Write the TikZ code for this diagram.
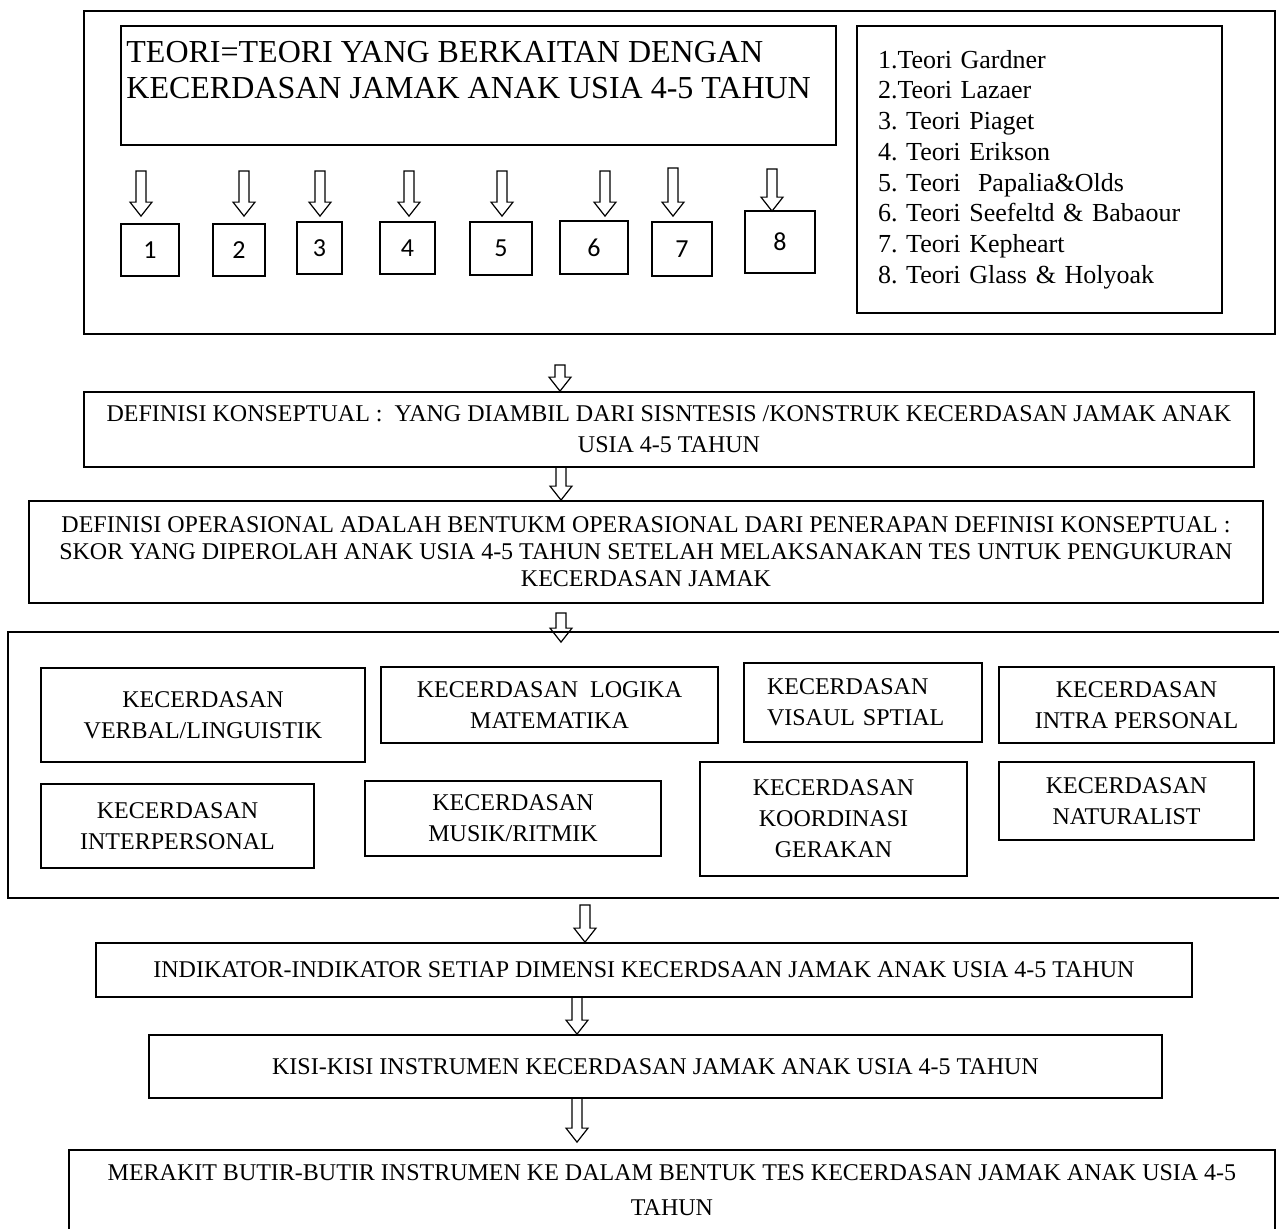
\documentclass[tikz,border=0pt]{standalone}
\usepackage{fontspec}
\setmainfont{Liberation Serif}
\newfontfamily\numfont{Carlito}
\usetikzlibrary{calc}
\frenchspacing

\tikzset{
  frame/.style={draw, line width=0.9pt, inner sep=0pt, align=center,
    font=\fontsize{12}{15.5}\selectfont},
  numbox/.style={draw, line width=0.9pt, inner sep=0pt,
    font=\numfont\fontsize{13}{15}\selectfont},
  hollow/.style={draw, line width=0.6pt, to path={
    let \p1=(\tikztostart), \p2=(\tikztotarget) in
    (\x1-2.5pt,\y1) -- (\x1-2.5pt,\y2+7pt) -- (\x1-5.5pt,\y2+7pt) -- (\x1,\y2)
    -- (\x1+5.5pt,\y2+7pt) -- (\x1+2.5pt,\y2+7pt) -- (\x1+2.5pt,\y1) -- cycle}},
}

\begin{document}
\begin{tikzpicture}[x=0.5pt, y=-0.5pt]

      \useasboundingbox (0,0) rectangle (1279,1228);
      \clip (0,0) rectangle (1279,1228);

      % top block: theories
      \node[frame, minimum width=595.5pt, minimum height=161.5pt] (top) at (679.5,172.5) {};
      \node[frame, minimum width=357.5pt, minimum height=59.5pt] (titlebox) at (478.5,85.5) {};
      \node[anchor=north west, inner sep=0pt, align=left,
        font=\fontsize{16}{18}\selectfont] (title) at (126,41)
        {TEORI=TEORI YANG BERKAITAN DENGAN\\KECERDASAN JAMAK ANAK USIA 4-5 TAHUN};
      \node[frame, minimum width=182.5pt, minimum height=143.5pt, text width=161.5pt,
        align=left, font=\fontsize{13}{15.35}\selectfont] (legend) at (1039.5,169.5)
        {1.Teori Gardner\\2.Teori Lazaer\\3. Teori Piaget\\4. Teori Erikson\\
         5. Teori\ \ Papalia\&Olds\\6. Teori Seefeltd \& Babaour\\7. Teori Kepheart\\
         8. Teori Glass \& Holyoak};

      \begin{scope}[every node/.style={numbox}]
        \node[minimum width=29pt, minimum height=26pt] (1) at (150,250) {1};
        \node[minimum width=26pt, minimum height=26pt] (2) at (239,250) {2};
        \node[minimum width=22.5pt, minimum height=26pt] (3) at (319.5,248) {3};
        \node[minimum width=27.5pt, minimum height=26pt] (4) at (407.5,248) {4};
        \node[minimum width=31pt, minimum height=26.5pt] (5) at (501,248.5) {5};
        \node[minimum width=34pt, minimum height=26.5pt] (6) at (594,247.5) {6};
        \node[minimum width=30pt, minimum height=27pt] (7) at (682,249) {7};
        \node[minimum width=35pt, minimum height=31pt] (8) at (780,242) {8};
      \end{scope}

      \coordinate (s1) at (141,171);
      \coordinate (s2) at (244,171);
      \coordinate (s3) at (320,171);
      \coordinate (s4) at (409,171);
      \coordinate (s5) at (502,171);
      \coordinate (s6) at (605,171);
      \coordinate (s7) at (673,168);
      \coordinate (s8) at (772,169);
      \path (s1) edge[hollow] ([yshift=3.5pt]1.north -| s1);
      \path (s2) edge[hollow] ([yshift=3.5pt]2.north -| s2);
      \path (s3) edge[hollow] ([yshift=2.5pt]3.north -| s3);
      \path (s4) edge[hollow] ([yshift=2.5pt]4.north -| s4);
      \path (s5) edge[hollow] ([yshift=2.5pt]5.north -| s5);
      \path (s6) edge[hollow] ([yshift=2pt]6.north -| s6);
      \path (s7) edge[hollow] ([yshift=2.5pt]7.north -| s7);
      \path (s8) edge[hollow] ([yshift=-0.5pt]8.north -| s8);

      % definitions
      \node[frame, minimum width=585pt, minimum height=37.5pt] (konsep) at (669,429.5)
        {DEFINISI KONSEPTUAL :\ \ YANG DIAMBIL DARI SISNTESIS /KONSTRUK KECERDASAN JAMAK ANAK\\
         USIA 4-5 TAHUN};
      \node[frame, minimum width=617pt, minimum height=51pt,
        font=\fontsize{12}{13.5}\selectfont] (operasi) at (646,552)
        {DEFINISI OPERASIONAL ADALAH BENTUKM OPERASIONAL DARI PENERAPAN DEFINISI KONSEPTUAL :\\
         SKOR YANG DIPEROLAH ANAK USIA 4-5 TAHUN SETELAH MELAKSANAKAN TES UNTUK PENGUKURAN\\
         KECERDASAN JAMAK};

      % dimensions
      \node[frame, minimum width=641pt, minimum height=133pt] (dimensi) at (649,765) {};
      \begin{scope}[every node/.style={frame}]
        \node[minimum width=162pt, minimum height=47pt] (verbal) at (203,715)
          {KECERDASAN\\VERBAL/LINGUISTIK};
        \node[minimum width=168.5pt, minimum height=38pt] (logika) at (549.5,705)
          {KECERDASAN\ \ LOGIKA\\MATEMATIKA};
        \node[minimum width=119pt, minimum height=39.5pt, text width=96pt, align=left]
          (visual) at (863,702.5) {KECERDASAN\\VISAUL SPTIAL};
        \node[minimum width=137.5pt, minimum height=38pt] (intra) at (1136.5,705)
          {KECERDASAN\\INTRA PERSONAL};
        \node[minimum width=136.5pt, minimum height=42pt] (inter) at (177.5,826)
          {KECERDASAN\\INTERPERSONAL};
        \node[minimum width=148pt, minimum height=37.5pt] (musik) at (513,818.5)
          {KECERDASAN\\MUSIK/RITMIK};
        \node[minimum width=133.5pt, minimum height=57pt] (gerak) at (833.5,819)
          {KECERDASAN\\KOORDINASI\\GERAKAN};
        \node[minimum width=127.5pt, minimum height=39pt] (natural) at (1126.5,801)
          {KECERDASAN\\NATURALIST};
      \end{scope}

      % instrument steps
      \node[frame, minimum width=548pt, minimum height=27pt] (indikator) at (644,970)
        {INDIKATOR-INDIKATOR SETIAP DIMENSI KECERDSAAN JAMAK ANAK USIA 4-5 TAHUN};
      \node[frame, minimum width=506.5pt, minimum height=31.5pt] (kisi) at (655.5,1066.5)
        {KISI-KISI INSTRUMEN KECERDASAN JAMAK ANAK USIA 4-5 TAHUN};
      \node[frame, minimum width=603pt, minimum height=40pt,
        font=\fontsize{12}{17.5}\selectfont] (merakit) at (672,1190)
        {MERAKIT BUTIR-BUTIR INSTRUMEN KE DALAM BENTUK TES KECERDASAN JAMAK ANAK USIA 4-5\\
         TAHUN};

      \coordinate (a1) at (560,365);
      \coordinate (a2) at (561,467);
      \coordinate (a3) at (561,613);
      \coordinate (a4) at (585,905);
      \coordinate (a5) at (577,997);
      \coordinate (a6) at (577,1098);
      \path (a1) edge[hollow] (konsep.north -| a1);
      \path (a2) edge[hollow] (operasi.north -| a2);
      \path (a3) edge[hollow] ([yshift=-5.5pt]dimensi.north -| a3);
      \path (a4) edge[hollow] (indikator.north -| a4);
      \path (a5) edge[hollow] (kisi.north -| a5);
      \path (a6) edge[hollow] ([yshift=3.5pt]merakit.north -| a6);

    \end{tikzpicture}
\end{document}
